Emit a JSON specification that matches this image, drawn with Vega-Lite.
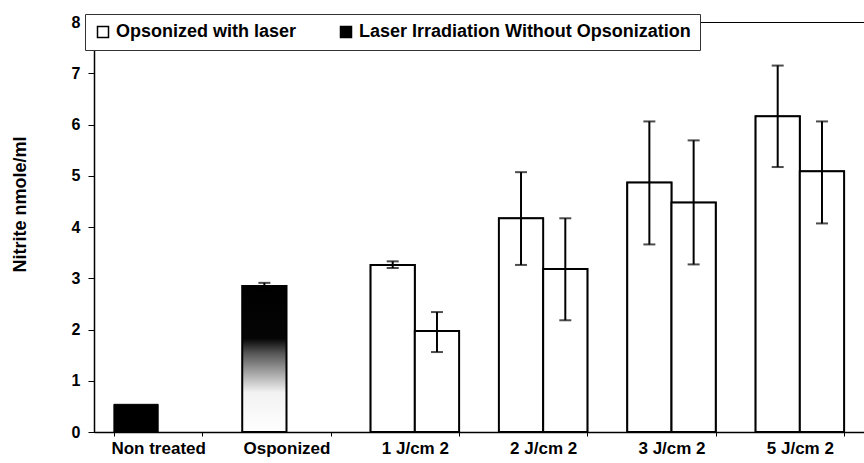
{
  "$schema": "https://vega.github.io/schema/vega-lite/v6.json",
  "width": 770,
  "height": 410,
  "autosize": {"type": "none"},
  "padding": {"left": 94, "top": 22, "right": 0, "bottom": 31},
  "background": "white",
  "config": {
    "font": "Liberation Sans",
    "view": {"stroke": "black", "strokeWidth": 1},
    "axis": {"grid": false, "domainColor": "black", "domainWidth": 1.5, "tickColor": "black", "labelColor": "black", "titleColor": "black", "labelFont": "Liberation Sans", "titleFont": "Liberation Sans", "labelFontWeight": "bold", "titleFontWeight": "bold"},
    "legend": {
      "orient": "none", "legendX": -9, "legendY": -8, "direction": "horizontal",
      "strokeColor": "#333", "fillColor": "white", "padding": 9,
      "symbolType": "square", "symbolSize": 121, "symbolStrokeColor": "black", "symbolStrokeWidth": 1.5,
      "labelFont": "Liberation Sans", "labelFontWeight": "bold", "labelFontSize": 18, "labelColor": "black",
      "columnPadding": 40, "labelLimit": 0, "symbolOpacity": 1
    }
  },
  "data": {
    "values": [
      {"group": "Non treated", "slot": "1", "series": "Non treated", "value": 0.54, "lo": null, "hi": null},
      {"group": "Osponized", "slot": "1", "series": "Osponized", "value": 2.85, "lo": 2.82, "hi": 2.91},
      {"group": "1 J/cm 2", "slot": "1", "series": "Opsonized with laser", "value": 3.26, "lo": 3.2, "hi": 3.33},
      {"group": "1 J/cm 2", "slot": "2", "series": "Laser Irradiation Without Opsonization", "value": 1.97, "lo": 1.56, "hi": 2.34},
      {"group": "2 J/cm 2", "slot": "1", "series": "Opsonized with laser", "value": 4.17, "lo": 3.26, "hi": 5.07},
      {"group": "2 J/cm 2", "slot": "2", "series": "Laser Irradiation Without Opsonization", "value": 3.18, "lo": 2.18, "hi": 4.17},
      {"group": "3 J/cm 2", "slot": "1", "series": "Opsonized with laser", "value": 4.87, "lo": 3.66, "hi": 6.06},
      {"group": "3 J/cm 2", "slot": "2", "series": "Laser Irradiation Without Opsonization", "value": 4.48, "lo": 3.27, "hi": 5.69},
      {"group": "5 J/cm 2", "slot": "1", "series": "Opsonized with laser", "value": 6.16, "lo": 5.17, "hi": 7.15},
      {"group": "5 J/cm 2", "slot": "2", "series": "Laser Irradiation Without Opsonization", "value": 5.09, "lo": 4.07, "hi": 6.06}
    ]
  },
  "encoding": {
    "x": {
      "field": "group", "type": "nominal",
      "scale": {"domain": ["Non treated", "Osponized", "1 J/cm 2", "2 J/cm 2", "3 J/cm 2", "5 J/cm 2"], "paddingInner": 0.31, "paddingOuter": 0.155},
      "axis": {"title": null, "labelAngle": 0, "tickBand": "extent", "tickSize": 4, "labelPadding": 4, "labelFontSize": 17},
      "title": null
    },
    "xOffset": {"field": "slot", "type": "nominal", "scale": {"domain": ["1", "2"], "paddingInner": 0, "paddingOuter": 0}},
    "y": {
      "field": "value", "type": "quantitative",
      "scale": {"domain": [0, 8], "nice": false, "zero": true},
      "axis": {"values": [0, 1, 2, 3, 4, 5, 6, 7, 8], "tickSize": 6, "labelPadding": 8, "labelFontSize": 16, "titleFontSize": 18, "titlePadding": 42, "titleY": 182, "domainWidth": 1.5},
      "title": "Nitrite nmole/ml"
    }
  },
  "layer": [
    {
      "transform": [{"filter": "datum.slot == '2' || datum.series == 'Opsonized with laser'"}],
      "mark": {"type": "bar", "stroke": "black", "strokeWidth": 1.5},
      "encoding": {
        "fill": {
          "field": "series", "type": "nominal",
          "scale": {"domain": ["Opsonized with laser", "Laser Irradiation Without Opsonization"], "range": ["white", "black"]},
          "legend": {"title": null, "labelExpr": "datum.label == 'Laser Irradiation Without Opsonization' ? datum.label + '\u00a0\u00a0\u00a0\u00a0\u00a0\u00a0\u00a0\u00a0\u00a0\u00a0\u00a0\u00a0\u00a0' : datum.label"}
        }
      }
    },
    {
      "transform": [{"filter": "datum.slot == '2' || datum.series == 'Opsonized with laser'"}],
      "mark": {"type": "bar", "fill": "white", "stroke": "black", "strokeWidth": 2},
      "encoding": {}
    },
    {
      "transform": [{"filter": "datum.series == 'Non treated'"}],
      "mark": {"type": "bar", "fill": "black", "stroke": "black", "strokeWidth": 1},
      "encoding": {}
    },
    {
      "transform": [{"filter": "datum.series == 'Osponized'"}],
      "mark": {
        "type": "bar", "stroke": "black", "strokeWidth": 2,
        "fill": {"gradient": "linear", "x1": 0, "y1": 0, "x2": 0, "y2": 1,
          "stops": [
            {"offset": 0, "color": "#000000"},
            {"offset": 0.36, "color": "#050505"},
            {"offset": 0.46, "color": "#555555"},
            {"offset": 0.6, "color": "#a8a8a8"},
            {"offset": 0.73, "color": "#f2f2f2"},
            {"offset": 1, "color": "#ffffff"}
          ]}
      },
      "encoding": {}
    },
    {
      "transform": [{"filter": "datum.lo != null"}],
      "mark": {"type": "rule", "color": "black", "strokeWidth": 2},
      "encoding": {
        "y": {"field": "lo", "type": "quantitative", "title": "Nitrite nmole/ml"},
        "y2": {"field": "hi"}
      }
    },
    {
      "transform": [{"filter": "datum.lo != null"}],
      "mark": {"type": "tick", "color": "black", "thickness": 2, "size": 12},
      "encoding": {"y": {"field": "lo", "type": "quantitative", "title": "Nitrite nmole/ml"}}
    },
    {
      "transform": [{"filter": "datum.lo != null"}],
      "mark": {"type": "tick", "color": "black", "thickness": 2, "size": 12},
      "encoding": {"y": {"field": "hi", "type": "quantitative", "title": "Nitrite nmole/ml"}}
    }
  ]
}
